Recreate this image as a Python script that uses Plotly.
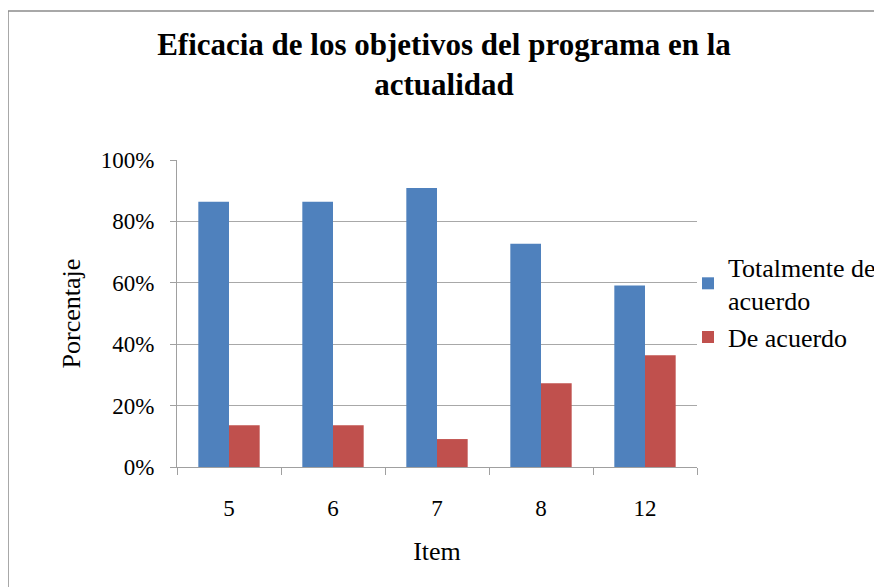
import plotly.graph_objects as go

items = ["5", "6", "7", "8", "12"]
totalmente = [0.864, 0.864, 0.909, 0.727, 0.591]
de_acuerdo = [0.136, 0.136, 0.091, 0.273, 0.364]
series_names = ["Totalmente de<br>acuerdo", "De acuerdo"]
colors = ["#4F81BD", "#C0504D"]

W, H = 882, 587
OFF = 8  # page body margin
L, R, T, B = 177, 697, 160, 467
pw, ph = R - L, B - T

fig = go.Figure()
fig.add_bar(x=items, y=totalmente, name=series_names[0], marker_color=colors[0], marker_line_width=0)
fig.add_bar(x=items, y=de_acuerdo, name=series_names[1], marker_color=colors[1], marker_line_width=0)

font = "Liberation Serif"
def px_x(x):
    return (x - L) / pw
def px_y(y):
    return (B - y) / ph

fig.update_layout(
    width=W, height=H,
    margin=dict(l=L - OFF, r=W - R + OFF, t=T - OFF, b=H - B + OFF, autoexpand=False),
    paper_bgcolor="white", plot_bgcolor="white",
    barmode="group", bargap=0.41, bargroupgap=0,
    font=dict(family=font, size=23, color="black"),
    title=dict(text="<b>Eficacia de los objetivos del programa en la<br>actualidad</b>",
               x=px_x(444), xanchor="center", xref="paper", y=1 - (55 - OFF) / H, yanchor="middle",
               font=dict(family=font, size=31, color="black")),
    legend=dict(x=px_x(688), y=px_y(243), xanchor="left", yanchor="top",
                font=dict(family=font, size=26), itemwidth=30, tracegroupgap=0,
                bgcolor="rgba(0,0,0,0)"),
    xaxis=dict(type="category", showline=True, linecolor="#A0A0A0", linewidth=1,
               ticks="outside", tickson="boundaries", ticklen=7, tickcolor="#A0A0A0",
               tickfont=dict(family=font, size=23), showgrid=False, ticklabelstandoff=20,
               title=dict(text="Item", font=dict(family=font, size=26), standoff=22)),
    yaxis=dict(range=[0, 1], dtick=0.2, tickformat=".0%", showline=True, linecolor="#A0A0A0",
               linewidth=1, ticks="outside", ticklen=6, tickcolor="#A0A0A0",
               showgrid=True, gridcolor="#A8A8A8", gridwidth=1, zeroline=False,
               tickfont=dict(family=font, size=23), ticklabelstandoff=11,
               title=dict(text="Porcentaje", font=dict(family=font, size=26), standoff=12)),
    shapes=[dict(type="rect", xref="paper", yref="paper",
                 x0=px_x(8), x1=px_x(900), y0=px_y(600), y1=px_y(11),
                 line=dict(color="#8C8C8C", width=1.5), fillcolor="rgba(0,0,0,0)", layer="below")],
)

fig.write_html("out.html")
